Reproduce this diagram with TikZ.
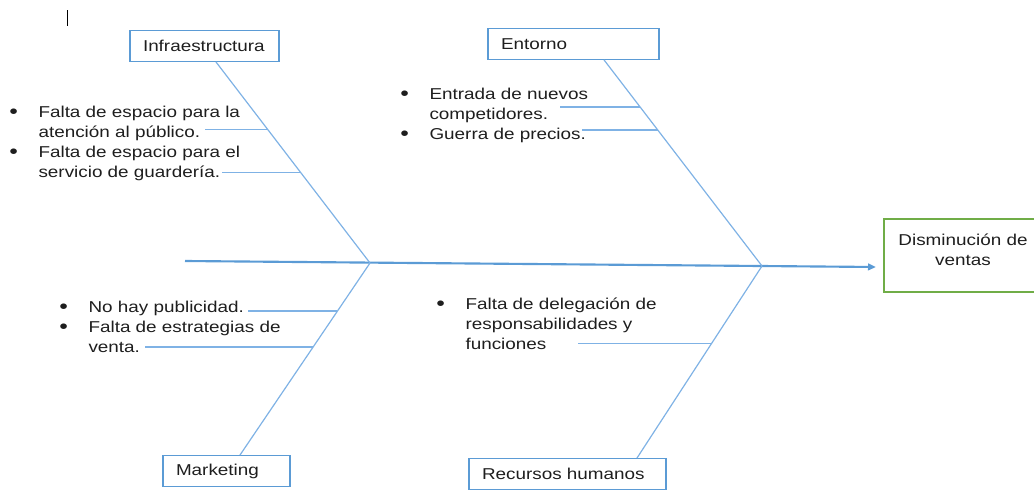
\documentclass[tikz,border=0pt]{standalone}
\usepackage{fontspec}
\setmainfont{Liberation Sans}[FakeStretch=1.2]
\usetikzlibrary{calc,arrows.meta}
\definecolor{boxblue}{HTML}{5B9BD5}
\definecolor{boneblue}{HTML}{7FB2E5}
\definecolor{effgreen}{HTML}{70AD47}
\definecolor{txtgray}{HTML}{1E1E1E}
\newcommand{\bul}{\raisebox{-1.2pt}{\scalebox{1.3}{•}}}
\begin{document}
\begin{tikzpicture}[x=0.75pt,y=-0.75pt,
        font=\fontsize{11.8}{15}\selectfont,text=txtgray,
        cause/.style={draw=boxblue,line width=0.9pt,minimum height=23pt,inner xsep=9.75pt,align=left},
        effectbox/.style={draw=effgreen,line width=0.9pt,minimum width=118.5pt,minimum height=54.75pt},
        bone/.style={draw=boneblue,line width=0.9pt},
        spine/.style={draw=boxblue,line width=1.6pt,-{Triangle[length=6pt,width=5pt]}},
        list/.style={anchor=base west,inner sep=0pt}]
                \useasboundingbox (0,0) rectangle (1034,489);
                \draw[black,line width=0.6pt] (67,10)--(67,26);
                \node[cause,text width=92.25pt] (infra) at (204.5,46) {Infraestructura};
                \node[cause,text width=108.75pt] (entorno) at (573.5,44) {Entorno};
                \node[cause,text width=75.75pt] (marketing) at (226.5,471) {Marketing};
                \node[cause,text width=128.25pt] (rrhh) at (567.5,474) {Recursos humanos};
                \node[effectbox] (efecto) at (963,255.5) {};
                \node[align=center] (efectotxt) at (963,250) {Disminución de\\ventas};
                \coordinate (tail) at (185,261);
                \coordinate (head) at (876,267);
                \coordinate (j1) at (370,263);
                \coordinate (j2) at (762,266);
                \draw[spine] (tail)--(head);
                \draw[bone] ([xshift=8.6pt]infra.south) coordinate (ib)--(j1);
                \draw[bone] ([xshift=22.9pt]entorno.south) coordinate (eb)--(j2);
                \draw[bone] ([xshift=10.1pt]marketing.north) coordinate (mb)--(j1);
                \draw[bone] ([xshift=52.1pt]rrhh.north) coordinate (rb)--(j2);
                \draw[bone] ($(ib)!0.337!(j1)$)--++(-63,0);
                \draw[bone] ($(ib)!0.55!(j1)$)--++(-79,0);
                \draw[bone] ($(eb)!0.228!(j2)$)--++(-80,0);
                \draw[bone] ($(eb)!0.34!(j2)$)--++(-76,0);
                \draw[bone] ($(mb)!0.75!(j1)$)--++(-89,0);
                \draw[bone] ($(mb)!0.5625!(j1)$)--++(-168,0);
                \draw[bone] ($(rb)!0.597!(j2)$)--++(-134,0);
                \node[list] (infratxt) at (9,117) {\begin{tabular}[t]{@{}l@{\hspace{15.5pt}}l@{}}
                    \bul & Falta de espacio para la\\
                         & atención al público.\\
                    \bul & Falta de espacio para el\\
                         & servicio de guardería.
                    \end{tabular}};
                \node[list] (entornotxt) at (400,99) {\begin{tabular}[t]{@{}l@{\hspace{15.5pt}}l@{}}
                    \bul & Entrada de nuevos\\
                         & competidores.\\
                    \bul & Guerra de precios.
                    \end{tabular}};
                \node[list] (marketingtxt) at (59,312) {\begin{tabular}[t]{@{}l@{\hspace{15.5pt}}l@{}}
                    \bul & No hay publicidad.\\
                    \bul & Falta de estrategias de\\
                         & venta.
                    \end{tabular}};
                \node[list] (rrhhtxt) at (436,309) {\begin{tabular}[t]{@{}l@{\hspace{15.5pt}}l@{}}
                    \bul & Falta de delegación de\\
                         & responsabilidades y\\
                         & funciones
                    \end{tabular}};
            \end{tikzpicture}
\end{document}
